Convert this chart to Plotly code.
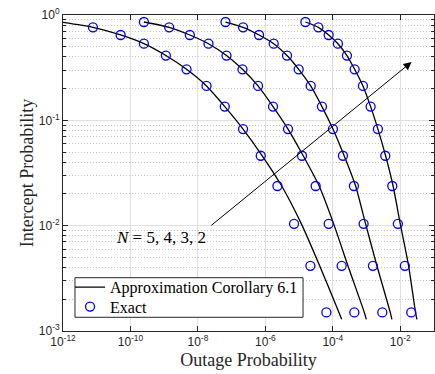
import plotly.graph_objects as go

# Intercept probability levels (shared by exact markers)
intercept_levels = [0.858, 0.764, 0.646, 0.534, 0.412, 0.305, 0.212, 0.135,
                    0.0826, 0.0461, 0.0238, 0.0104, 0.00416, 0.0015]
line_end_level = 0.00129

# Exact (markers): log10 outage probability for each N
exact_N5 = [-11.112, -10.291, -9.601, -8.950, -8.337, -7.745, -7.203, -6.661,
            -6.137, -5.642, -5.150, -4.665, -4.191]           # first level off-plot
exact_N4 = [-9.601, -8.852, -8.239, -7.686, -7.153, -6.679, -6.217, -5.773,
            -5.328, -4.914, -4.508, -4.123, -3.738, -3.362]
exact_N3 = [-7.182, -6.661, -6.187, -5.752, -5.358, -5.012, -4.656, -4.322,
            -3.996, -3.700, -3.374, -3.087, -2.811, -2.533]
exact_N2 = [-4.813, -4.428, -4.123, -3.848, -3.581, -3.353, -3.107, -2.879,
            -2.663, -2.444, -2.237, -2.071, -1.864, -1.674]

# Approximation (Corollary 6.1) curves: log10 outage probability
approx_N5 = [-12.089, -11.112, -10.291, -9.601, -8.950, -8.337, -7.745, -7.203,
             -6.661, -6.093, -5.515, -4.932, -4.390, -3.818, -3.738]
approx_N4 = [-9.601, -8.852, -8.239, -7.686, -7.153, -6.679, -6.217, -5.773,
             -5.328, -4.878, -4.405, -3.975, -3.552, -3.066, -3.007]
approx_N3 = [-7.182, -6.661, -6.187, -5.752, -5.358, -5.012, -4.656, -4.322,
             -3.996, -3.664, -3.324, -3.028, -2.693, -2.296, -2.249]
approx_N2 = [-4.813, -4.428, -4.123, -3.848, -3.581, -3.353, -3.107, -2.879,
             -2.663, -2.435, -2.213, -2.000, -1.754, -1.547, -1.508]

# Tick exponents
x_tick_exps = [-12, -10, -8, -6, -4, -2]
y_tick_exps = [-3, -2, -1, 0]

approx = [approx_N5, approx_N4, approx_N3, approx_N2]
exact = [exact_N5, exact_N4, exact_N3, exact_N2]
line_levels = intercept_levels + [line_end_level]

fig = go.Figure()

for i, a in enumerate(approx):
    fig.add_trace(go.Scatter(
        x=[10 ** v for v in a], y=line_levels, mode="lines",
        line=dict(color="black", width=1.3, shape="spline", smoothing=0.6),
        name="Approximation Corollary 6.1", showlegend=(i == 0),
        legend="legend"))

for i, e in enumerate(exact):
    lv = intercept_levels[len(intercept_levels) - len(e):]
    fig.add_trace(go.Scatter(
        x=[10 ** v for v in e], y=lv, mode="markers",
        marker=dict(symbol="circle-open", size=9, color="#0000ff",
                    line=dict(width=1.3, color="#0000ff")),
        name="Exact", showlegend=(i == 0), legend="legend2"))

serif = "Liberation Serif"
tickfont = dict(family="Liberation Sans, Arial", size=12, color="#262626")

def lbl(e):
    return "10<sup>%d</sup>" % e

fig.update_xaxes(
    type="log", range=[-12, -1],
    tickvals=[10.0 ** e for e in x_tick_exps], ticktext=[lbl(e) for e in x_tick_exps],
    showgrid=True, gridcolor="#e0e0e0", gridwidth=1,
    ticks="inside", ticklen=5, tickcolor="#262626",
    showline=True, linecolor="#262626", linewidth=1, mirror="ticks",
    tickfont=tickfont, zeroline=False,
    title=dict(text="Outage Probability", font=dict(family=serif, size=18, color="#262626"),
               standoff=4),
)
fig.update_yaxes(
    type="log", range=[-3, 0],
    tickvals=[10.0 ** e for e in y_tick_exps], ticktext=[lbl(e) for e in y_tick_exps],
    showgrid=True, gridcolor="#e0e0e0", gridwidth=1,
    ticks="inside", ticklen=5, tickcolor="#262626",
    showline=True, linecolor="#262626", linewidth=1, mirror="ticks",
    tickfont=tickfont, zeroline=False,
    minor=dict(dtick="D1", showgrid=True, gridcolor="#c4c4c4", griddash="1px,2px",
               gridwidth=1, ticks="inside", ticklen=3, tickcolor="#262626"),
    title=dict(text="Intercept Probability", font=dict(family=serif, size=18, color="#262626"),
               standoff=0),
)

# Arrow indicating increasing N direction
fig.add_annotation(
    x=-1.665, y=-0.446, ax=-7.647, ay=-2.009, xref="x", yref="y",
    axref="x", ayref="y", showarrow=True, arrowhead=2, arrowsize=1.6,
    arrowwidth=1, arrowcolor="black", text="")
fig.add_annotation(
    x=-9.1, y=-2.108, xref="x", yref="y", showarrow=False,
    text="<i>N</i> = 5, 4, 3, 2",
    font=dict(family=serif, size=17, color="black"))

# Legend frame
fig.add_shape(type="rect", xref="paper", yref="paper",
              x0=0.0323, x1=0.647, y0=0.0434, y1=0.1687,
              fillcolor="white", line=dict(color="#262626", width=1), layer="above")

legend_common = dict(xanchor="left", yanchor="middle", bgcolor="rgba(0,0,0,0)",
                     borderwidth=0, font=dict(family=serif, size=16, color="black"),
                     itemwidth=30)
fig.update_layout(
    width=435, height=374,
    margin=dict(l=63, r=1, t=15, b=43),
    paper_bgcolor="white", plot_bgcolor="white",
    legend=dict(x=0.019, y=0.1383, **legend_common),
    legend2=dict(x=0.019, y=0.0769, **legend_common),
    showlegend=True,
)

fig.write_html("out.html")
